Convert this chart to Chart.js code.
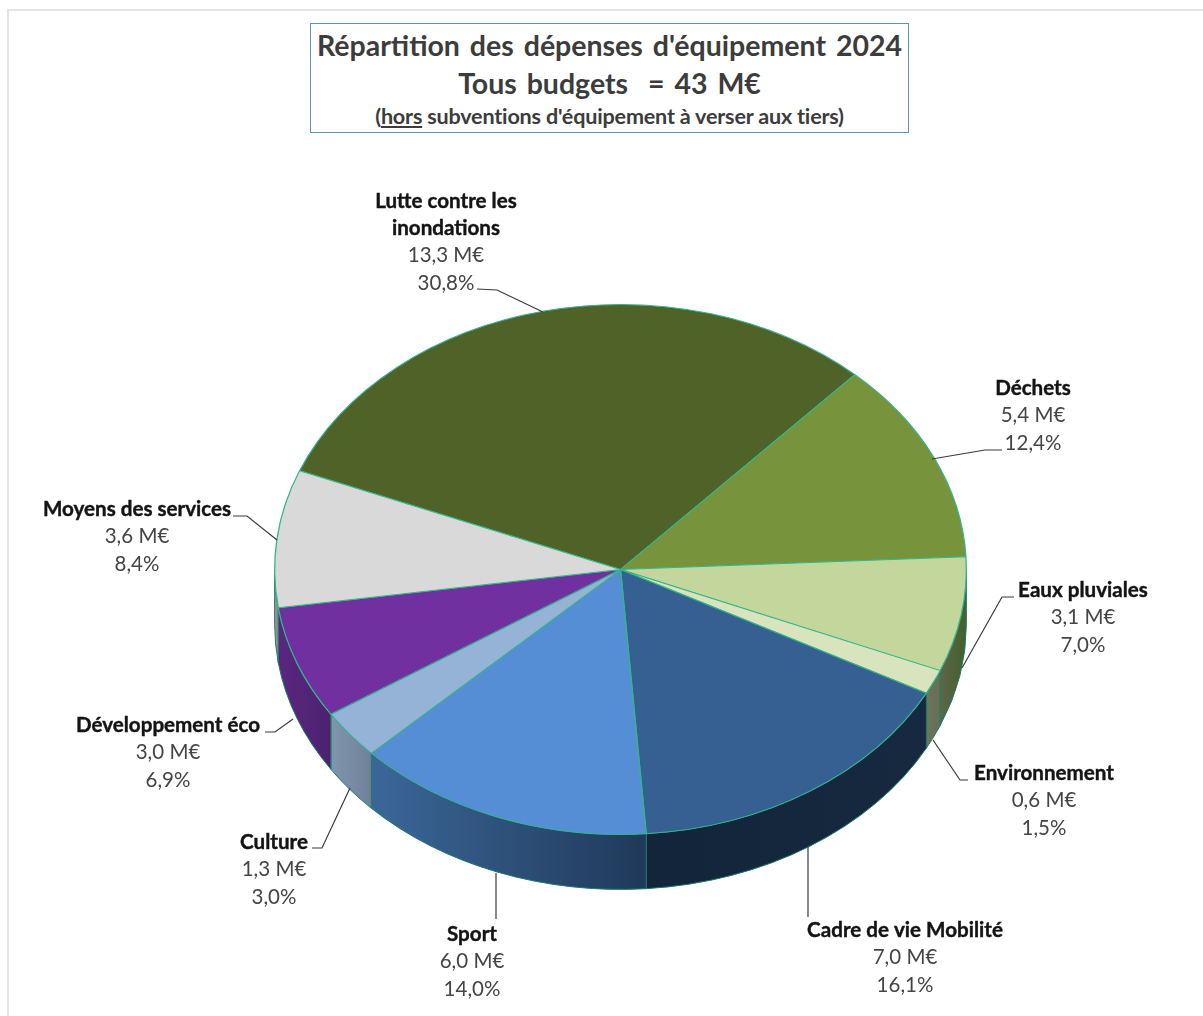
<!DOCTYPE html>
<html lang="fr">
<head>
<meta charset="utf-8">
<title>Répartition des dépenses d'équipement 2024</title>
<script src="https://cdn.jsdelivr.net/npm/chart.js@4"></script>
<style>
    html, body { margin: 0; padding: 0; background: #fff; overflow: hidden; }
    #page { position: relative; width: 1203px; height: 1016px; font-family: Lato, sans-serif; }
    #frame { position: absolute; left: 7px; top: 9px; right: 0; bottom: 0; border-top: 2px solid #e4e4e4; border-left: 2px solid #e4e4e4; }
    #pie { position: absolute; left: 0; top: 0; }
    #titleBox {
        position: absolute; left: 310px; top: 23px; width: 597px; height: 108px;
        border: 1px solid #5b93bd; background: #fff; color: #3c3c3c; text-align: center; font-weight: 700;
    }
    #titleBox div { position: absolute; left: 0; right: 0; white-space: nowrap; }
    #t1 { top: 2px; font-size: 28.5px; line-height: 38px; word-spacing: 3px; }
    #t2 { top: 40px; font-size: 28.5px; line-height: 38px; word-spacing: 3px; left: -8px; }
    #t3 { top: 79px; font-size: 21.6px; line-height: 26px; letter-spacing: -0.2px; }
</style>
</head>
<body>
<div id="page">
    <div id="frame"></div>
    <canvas id="pie" width="1203" height="1016"></canvas>
    <div id="titleBox">
        <div id="t1">Répartition des dépenses d'équipement 2024</div>
        <div id="t2">Tous budgets &nbsp;= 43 M€</div>
        <div id="t3">(<u>hors</u> subventions d'équipement à verser aux tiers)</div>
    </div>
</div>
<script>
// Values, clockwise from the top-left slice
const categories = ['Lutte contre les inondations', 'Déchets', 'Eaux pluviales', 'Environnement',
    'Cadre de vie Mobilité', 'Sport', 'Culture', 'Développement éco', 'Moyens des services'];
const amounts = ['13,3 M€', '5,4 M€', '3,1 M€', '0,6 M€', '7,0 M€', '6,0 M€', '1,3 M€', '3,0 M€', '3,6 M€'];
const percents = [30.8, 12.4, 7.0, 1.5, 16.1, 14.0, 3.0, 6.9, 8.4];

// Slice colours, then wall gradient (left to right)
const topColors = ['#4f6228', '#77933c', '#c3d69b', '#d7e4bd', '#376092', '#558ed5', '#95b3d7', '#7030a0', '#d9d9d9'];
const wallColors = [
    ['#000', '#000'], ['#000', '#000'], ['#5f6549', '#42602c'], ['#6c7459', '#666e53'],
    ['#13253a', '#16293f'], ['#3b6798', '#20395a'], ['#8096ad', '#6f8199'], ['#5a2780', '#4c2270'], ['#9a9a9a', '#8a8a8a']
];

// Label placement: centre x and first line y, then the leader polyline
const labelCenters = [[446, 201.5], [1033, 388.5], [1083, 590.5], [1044, 773.5], [905, 930.5], [472, 934.5], [274, 842.5], [168, 725.5], [137, 509.5]];
const leaders = [
    [[477, 289], [497, 290], [543, 312]],
    [[1002, 450], [985, 450], [932, 459]],
    [[1014, 597], [1002, 597], [962, 668]],
    [[968, 780], [960, 780], [933, 740]],
    [[808, 847], [808, 917]],
    [[496, 873], [496, 919]],
    [[312, 848], [322, 848], [350, 788]],
    [[265, 732], [275, 732], [293, 719]],
    [[233, 516], [247, 516], [277, 540]]
];

const SQUASH = 0.766;
const DEPTH = 55;
const EDGE = '#35b58a';

const tiltPlugin = {
    id: 'tilt',
    beforeDatasetsDraw(chart) {
        const ctx = chart.ctx;
        const arcs = chart.getDatasetMeta(0).data;

        // walls first, only the front half of the disc shows
        arcs.forEach((el, i) => {
            const a1 = Math.max(el.startAngle, 0);
            const a2 = Math.min(el.endAngle, Math.PI);
            if (a2 <= a1) return;
            const r = el.outerRadius;
            const x1 = el.x + r * Math.cos(a1);
            const x2 = el.x + r * Math.cos(a2);
            const grad = ctx.createLinearGradient(x2, 0, x1, 0);
            grad.addColorStop(0, wallColors[i][0]);
            grad.addColorStop(1, wallColors[i][1]);
            ctx.beginPath();
            ctx.ellipse(el.x, el.y, r, r * SQUASH, 0, a1, a2);
            ctx.ellipse(el.x, el.y + DEPTH, r, r * SQUASH, 0, a2, a1, true);
            ctx.closePath();
            ctx.fillStyle = grad;
            ctx.fill();
            ctx.strokeStyle = '#1f7a68';
            ctx.lineWidth = 1;
            ctx.stroke();
        });

        // squash the library's own arcs into the tilted disc
        const cy = arcs[0].y;
        ctx.save();
        ctx.translate(0, cy);
        ctx.scale(1, SQUASH);
        ctx.translate(0, -cy);
    },
    afterDatasetsDraw(chart) {
        chart.ctx.restore();
    },
    afterDraw(chart) {
        const ctx = chart.ctx;
        ctx.save();
        ctx.strokeStyle = '#3a3a3a';
        ctx.lineWidth = 1.2;
        leaders.forEach(line => {
            ctx.beginPath();
            line.forEach((p, j) => j ? ctx.lineTo(p[0], p[1]) : ctx.moveTo(p[0], p[1]));
            ctx.stroke();
        });

        ctx.textAlign = 'center';
        ctx.textBaseline = 'middle';
        categories.forEach((name, i) => {
            const [x, y0] = labelCenters[i];
            let y = y0;
            const nameLines = i === 0 ? ['Lutte contre les', 'inondations'] : [name];
            ctx.font = '700 20.6px Lato, sans-serif';
            ctx.fillStyle = '#141414';
            ctx.strokeStyle = '#141414';
            ctx.lineWidth = 0.4;
            nameLines.forEach(s => {
                ctx.fillText(s, x, y);
                ctx.strokeText(s, x, y);
                y += 27;
            });
            ctx.font = '400 20.5px Lato, sans-serif';
            ctx.fillStyle = '#454545';
            ctx.fillText(amounts[i], x, y);
            y += 27.5;
            ctx.fillText(percents[i].toFixed(1).replace('.', ',') + '%', x, y);
        });
        ctx.restore();
    }
};

new Chart(document.getElementById('pie'), {
    type: 'pie',
    data: {
        labels: categories,
        datasets: [{
            data: percents,
            backgroundColor: topColors,
            borderColor: EDGE,
            borderWidth: 1.3
        }]
    },
    options: {
        responsive: false,
        animation: false,
        rotation: -68.1,
        layout: { padding: { left: 274, right: 236, top: 223, bottom: 100 } },
        plugins: { legend: { display: false }, tooltip: { enabled: false } }
    },
    plugins: [tiltPlugin]
});
</script>
</body>
</html>
